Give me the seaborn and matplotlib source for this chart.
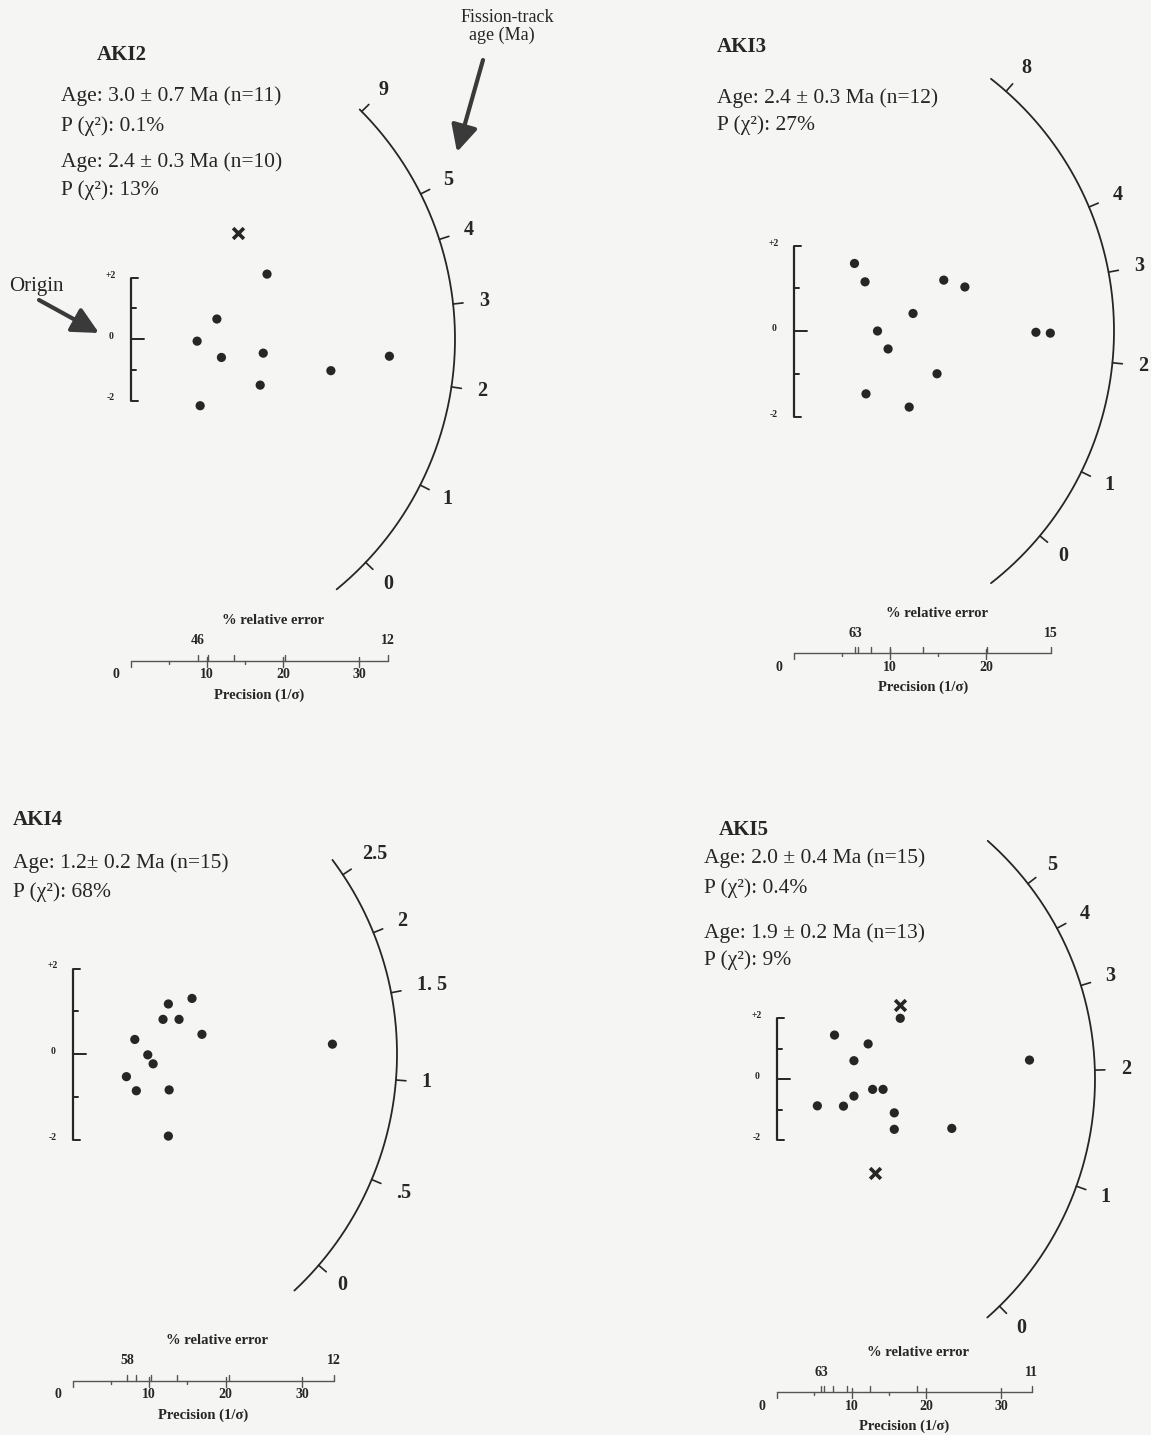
import matplotlib
matplotlib.use("Agg")
import numpy as np
import pandas as pd
import matplotlib.pyplot as plt
import seaborn as sns

W, H = 1151, 1435
PAPER = "#f5f5f3"
INK = "#262626"

# ---------------------------------------------------------------------------
# Grain data: precision (1/sigma) and standardised estimate for each sample
# ---------------------------------------------------------------------------
aki2_precision = [8.7, 11.3, 11.9, 9.1, 17.9, 17.4, 17.0, 26.3, 34.0]
aki2_z = [-0.07, 0.65, -0.60, -2.17, 2.11, -0.46, -1.50, -1.03, -0.56]
aki2_rejected_precision = [14.1]
aki2_rejected_z = [3.44]

aki3_precision = [6.3, 7.4, 15.6, 17.8, 12.4, 8.7, 9.8, 14.9, 7.5, 12.0, 25.2, 26.7]
aki3_z = [1.58, 1.15, 1.19, 1.03, 0.41, 0.00, -0.42, -1.00, -1.47, -1.78, -0.03, -0.05]
aki3_rejected_precision = []
aki3_rejected_z = []

aki4_precision = [15.6, 12.5, 11.8, 13.9, 16.9, 8.1, 9.8, 10.5, 7.0, 8.3, 12.6, 12.5, 34.0]
aki4_z = [1.30, 1.17, 0.81, 0.81, 0.46, 0.34, -0.02, -0.23, -0.53, -0.86, -0.84, -1.92, 0.23]
aki4_rejected_precision = []
aki4_rejected_z = []

aki5_precision = [16.5, 7.7, 12.2, 10.3, 33.8, 12.8, 14.2, 10.3, 5.4, 8.9, 15.7, 15.7, 23.4]
aki5_z = [1.99, 1.44, 1.15, 0.60, 0.62, -0.34, -0.34, -0.56, -0.88, -0.89, -1.11, -1.65, -1.62]
aki5_rejected_precision = [16.4, 13.1]
aki5_rejected_z = [2.43, -3.09]

# Age scale on the arc (Ma) and where each tick sits on the arc (degrees)
aki2_age_labels = ["9", "5", "4", "3", "2", "1", "0"]
aki2_age_angles = [44.6, 26.6, 17.9, 6.2, -8.5, -26.8, -43.6]
aki3_age_labels = ["8", "4", "3", "2", "1", "0"]
aki3_age_angles = [48.5, 22.8, 10.6, -5.7, -26.1, -39.8]
aki4_age_labels = ["2.5", "2", "1. 5", "1", ".5", "0"]
aki4_age_angles = [33.6, 22.0, 10.9, -4.6, -22.8, -40.7]
aki5_age_labels = ["5", "4", "3", "2", "1", "0"]
aki5_age_angles = [37.9, 28.3, 17.1, 1.6, -19.7, -45.6]

# % relative error range of each sample (largest, smallest)
aki2_relerr = [46, 12]
aki3_relerr = [63, 15]
aki4_relerr = [58, 12]
aki5_relerr = [63, 11]

aki2_stats = ["Age: 3.0 \u00b1 0.7 Ma (n=11)", "P (\u03c7\u00b2): 0.1%",
              "Age: 2.4 \u00b1 0.3 Ma (n=10)", "P (\u03c7\u00b2): 13%"]
aki3_stats = ["Age: 2.4 \u00b1 0.3 Ma (n=12)", "P (\u03c7\u00b2): 27%"]
aki4_stats = ["Age: 1.2\u00b1 0.2 Ma (n=15)", "P (\u03c7\u00b2): 68%"]
aki5_stats = ["Age: 2.0 \u00b1 0.4 Ma (n=15)", "P (\u03c7\u00b2): 0.4%",
              "Age: 1.9 \u00b1 0.2 Ma (n=13)", "P (\u03c7\u00b2): 9%"]

ROUND_RELERR = [60, 50, 40, 30, 20]

# ---------------------------------------------------------------------------
# Layout of each radial plot (pixels from the top-left corner)
# ---------------------------------------------------------------------------
panels = [
    dict(name="AKI2", title_xy=(97, 55), stats=aki2_stats, stats_x=61, stats_y=[96, 126, 162, 190],
         precision=aki2_precision, z=aki2_z, rej_p=aki2_rejected_precision, rej_z=aki2_rejected_z,
         age_labels=aki2_age_labels, age_angles=aki2_age_angles, relerr=aki2_relerr, K=405,
         origin=(131, 339), sx=7.6, sy=30.75, R=324, arc=(-50.6, 45.1), axis_y=661),
    dict(name="AKI3", title_xy=(717, 47), stats=aki3_stats, stats_x=717, stats_y=[98, 125],
         precision=aki3_precision, z=aki3_z, rej_p=aki3_rejected_precision, rej_z=aki3_rejected_z,
         age_labels=aki3_age_labels, age_angles=aki3_age_angles, relerr=aki3_relerr, K=402,
         origin=(794, 331), sx=9.6, sy=42.75, R=320, arc=(-52.0, 52.0), axis_y=653),
    dict(name="AKI4", title_xy=(13, 820), stats=aki4_stats, stats_x=13, stats_y=[863, 892],
         precision=aki4_precision, z=aki4_z, rej_p=aki4_rejected_precision, rej_z=aki4_rejected_z,
         age_labels=aki4_age_labels, age_angles=aki4_age_angles, relerr=aki4_relerr, K=410,
         origin=(73, 1054), sx=7.63, sy=42.75, R=324, arc=(-46.9, 36.8), axis_y=1381),
    dict(name="AKI5", title_xy=(719, 830), stats=aki5_stats, stats_x=704, stats_y=[858, 888, 933, 960],
         precision=aki5_precision, z=aki5_z, rej_p=aki5_rejected_precision, rej_z=aki5_rejected_z,
         age_labels=aki5_age_labels, age_angles=aki5_age_angles, relerr=aki5_relerr, K=375,
         origin=(777, 1079), sx=7.47, sy=30.5, R=318, arc=(-48.6, 48.5), axis_y=1392),
]

sns.set_theme(style="white", rc={"figure.facecolor": PAPER, "axes.facecolor": "none"})
plt.rcParams["font.family"] = ["Liberation Serif", "DejaVu Serif"]
plt.rcParams["text.color"] = INK

fig = plt.figure(figsize=(W / 100, H / 100), dpi=100)
fig.patch.set_facecolor(PAPER)


def fxy(x, y):
    return x / W, 1 - y / H


def draw_panel(p):
    x0, y0 = p["origin"]
    sx, sy, R = p["sx"], p["sy"], p["R"]
    ax = fig.add_axes([0, 0, 1, 1])
    ax.set_xlim(-x0 / sx, (W - x0) / sx)
    ax.set_ylim((y0 - H) / sy, y0 / sy)
    ax.set_axis_off()
    ax.patch.set_alpha(0)

    # grains
    df = pd.DataFrame({"precision": p["precision"], "z": p["z"]})
    sns.scatterplot(data=df, x="precision", y="z", ax=ax, color=INK, s=44,
                    edgecolor="none", legend=False, zorder=3)
    if len(p["rej_p"]):
        rej = pd.DataFrame({"precision": p["rej_p"], "z": p["rej_z"]})
        sns.scatterplot(data=rej, x="precision", y="z", ax=ax, color=INK, marker="x",
                        s=60, linewidth=2.6, legend=False, zorder=3)

    # age arc
    th = np.radians(np.linspace(p["arc"][0], p["arc"][1], 300))
    ax.plot(R * np.cos(th) / sx, R * np.sin(th) / sy, color=INK, lw=1.3)
    for lab, ang in zip(p["age_labels"], p["age_angles"]):
        t = np.radians(ang)
        c, s = np.cos(t), np.sin(t)
        ax.plot([R * c / sx, (R + 10) * c / sx], [R * s / sy, (R + 10) * s / sy],
                color=INK, lw=1.2)
        rl = R + 31 + 3.5 * max(len(lab) - 1, 0)
        ax.text(rl * c / sx, rl * s / sy, lab, ha="center", va="center",
                fontsize=14.5, fontweight="bold", color=INK)

    # standardised estimate bar at the origin
    ax.plot([0, 0], [-2, 2], color=INK, lw=1.6, solid_capstyle="butt")
    for zv, L in [(2, 7), (1, 5), (0, 13), (-1, 5), (-2, 7)]:
        ax.plot([0, L / sx], [zv, zv], color=INK, lw=1.4)
    for zv, lab in [(2, "+2"), (0, "0"), (-2, "-2")]:
        ax.text(-20 / sx, zv + 2.5 / sy, lab, ha="center", va="center", fontsize=7,
                fontweight="bold", color=INK)

    # precision axis with % relative error scale on top
    za = (y0 - p["axis_y"]) / sy
    K = p["K"]
    pmax = K / min(p["relerr"])
    up, dn = 6 / sy, 6 / sy
    ax.plot([0, pmax], [za, za], color="#555555", lw=1.0)
    ax.plot([0, 0], [za, za - dn], color="#555555", lw=1.0)
    for v in [5, 15]:
        if v < pmax:
            ax.plot([v, v], [za, za - 3 / sy], color="#555555", lw=1.0)
    for v in [10, 20, 30]:
        if v <= pmax:
            ax.plot([v, v], [za + 4 / sy, za - dn], color="#555555", lw=1.0)
    for v in [0, 10, 20, 30]:
        if v <= pmax:
            xoff = -15 / sx if v == 0 else 0
            ax.text(v + xoff, za - 14 / sy, str(v), ha="center", va="center",
                    fontsize=10, fontweight="bold", color=INK)
    for r in ROUND_RELERR:
        if min(p["relerr"]) < r < max(p["relerr"]):
            ax.plot([K / r, K / r], [za, za + up], color="#555555", lw=1.0)
    for r in p["relerr"]:
        ax.plot([K / r, K / r], [za, za + up], color="#555555", lw=1.0)
        ax.text(K / r, za + 20 / sy, str(r), ha="center", va="center",
                fontsize=10, fontweight="bold", color=INK)
    mid = pmax / 2
    ax.text(mid + 14 / sx, za + 40 / sy, "% relative error", ha="center", va="center",
            fontsize=10.5, fontweight="bold", color=INK)
    ax.text(mid, za - 34 / sy, "Precision (1/\u03c3)", ha="center", va="center",
            fontsize=10.5, fontweight="bold", color=INK)

    # sample name and statistics
    fig.text(*fxy(*p["title_xy"]), p["name"], ha="left", va="center", fontsize=15,
             fontweight="bold", color=INK)
    for txt, yy in zip(p["stats"], p["stats_y"]):
        fig.text(*fxy(p["stats_x"], yy), txt, ha="left", va="center", fontsize=15.5,
                 color=INK)
    return ax


axes = [draw_panel(p) for p in panels]

# explanatory annotations on the first radial plot
fig.text(*fxy(507, 17), "Fission-track", ha="center", va="center", fontsize=13, color=INK)
fig.text(*fxy(502, 35), "age (Ma)", ha="center", va="center", fontsize=13, color=INK)
fig.text(*fxy(9, 287), "Origin", ha="left", va="center", fontsize=15, color=INK)

arrow_kw = dict(arrowstyle="-|>,head_length=1.0,head_width=0.5", lw=3.0, color="#3a3a3a",
                shrinkA=0, shrinkB=0, mutation_scale=16)
axes[0].annotate("", xy=(457, H - 152), xytext=(483, H - 60), xycoords="figure pixels",
                 textcoords="figure pixels", arrowprops=arrow_kw)
axes[0].annotate("", xy=(99, H - 333), xytext=(39, H - 300), xycoords="figure pixels",
                 textcoords="figure pixels", arrowprops=arrow_kw)

fig.savefig("out.png", dpi=100, facecolor=PAPER)
